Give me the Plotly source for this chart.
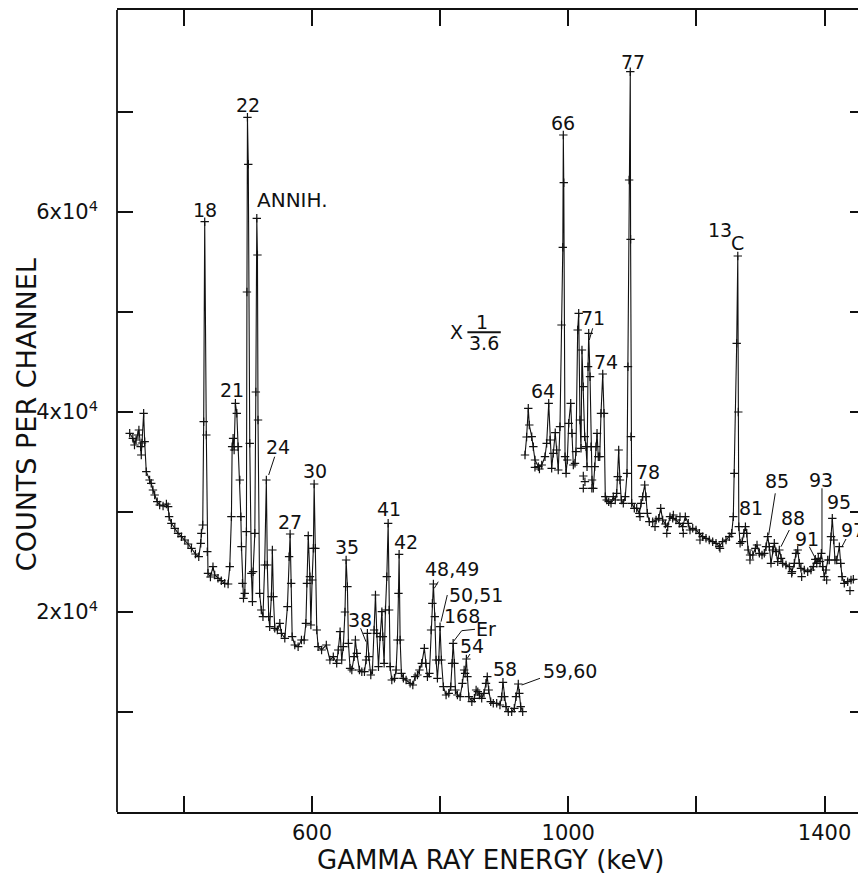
import plotly.graph_objects as go

# ---- Data ----
# Lower-energy part (true scale): energy (keV), counts per channel
low_E = [315.5, 320.4, 323.0, 325.5, 328.4, 329.9, 332.6, 333.6, 334.7, 337.3, 338.9, 341.4, 346.6, 349.1,
         351.8, 354.5, 358.5, 362.3, 367.6, 372.8, 375.5, 377.0, 380.6, 385.9, 391.0, 396.3, 401.5, 406.6,
         411.9, 418.1, 423.3, 426.4, 427.4, 429.5, 431.0, 432.6, 435.1, 436.6, 437.7, 441.5, 445.5, 448.2,
         453.3, 458.5, 463.8, 469.1, 471.7, 474.3, 475.4, 476.9, 478.5, 480.5, 482.7, 484.7, 487.4, 489.0,
         490.0, 491.5, 493.1, 495.1, 497.7, 498.5, 499.3, 500.6, 502.9, 505.5, 507.1, 508.1, 510.8, 512.4,
         513.9, 514.9, 515.8, 518.3, 520.9, 523.5, 526.2, 528.8, 530.3, 532.5, 534.0, 536.6, 538.2, 539.8,
         541.9, 546.0, 549.8, 552.3, 557.6, 561.7, 564.3, 565.9, 567.5, 569.1, 573.2, 578.4, 583.6, 587.8,
         590.5, 592.1, 594.2, 596.8, 598.3, 600.2, 602.2, 603.4, 605.3, 607.5, 609.6, 615.0, 622.4, 628.0,
         633.3, 638.6, 641.0, 643.9, 646.4, 648.9, 651.5, 653.3, 655.3, 656.9, 659.5, 662.2, 665.8, 667.8,
         670.0, 674.1, 677.8, 681.9, 684.5, 686.5, 688.7, 691.8, 694.4, 697.0, 699.1, 701.2, 703.8, 706.4,
         709.1, 710.6, 712.6, 714.7, 716.8, 718.9, 720.4, 722.0, 724.6, 728.7, 731.3, 733.4, 735.0, 736.0,
         737.6, 739.6, 742.7, 746.9, 753.2, 757.4, 761.0, 764.6, 767.7, 771.4, 775.4, 777.6, 780.2, 783.3,
         785.9, 787.9, 789.5, 791.7, 793.7, 795.8, 797.9, 799.9, 802.0, 805.1, 809.3, 813.5, 816.6, 818.7,
         820.3, 822.3, 823.9, 827.0, 831.2, 834.8, 837.5, 839.0, 841.0, 842.6, 844.8, 849.5, 853.5, 856.2,
         858.8, 861.3, 864.9, 868.5, 871.6, 873.6, 875.8, 879.0, 883.0, 888.3, 893.4, 896.1, 898.1, 900.2,
         902.8, 906.4, 911.7, 915.8, 918.4, 922.0, 923.6, 925.8, 928.9]
low_C = [37870, 37370, 36700, 37200, 37700, 38200, 36530, 35700, 36900, 39870, 37030, 34030, 33200, 32870,
         32200, 31700, 31030, 30700, 30600, 30800, 30530, 29530, 28870, 28370, 27870, 27530, 27200, 26800,
         26370, 25800, 25530, 26870, 27870, 28700, 39030, 59030, 37700, 26030, 23870, 23500, 24530, 23700,
         23370, 23130, 22870, 22800, 24530, 29530, 36530, 37370, 36200, 40870, 39870, 36530, 33200, 29530,
         26530, 22870, 21370, 21870, 28030, 52000, 69470, 64770, 36870, 23870, 21030, 24030, 27870, 42000,
         59370, 55700, 39200, 21870, 20200, 19530, 24700, 33200, 24700, 19530, 18530, 21530, 26200, 21530,
         18370, 18200, 18870, 17870, 17370, 20530, 25530, 27800, 22870, 17530, 16700, 16530, 17200, 17200,
         18870, 22870, 27630, 23530, 18700, 23200, 26370, 32800, 26370, 18200, 16530, 16200, 16700, 15200,
         15530, 14870, 16200, 18030, 15200, 16530, 20000, 25200, 22530, 16870, 14370, 14200, 15530, 17200,
         15870, 14200, 14030, 14030, 15200, 17870, 15530, 13700, 14200, 18200, 21700, 17870, 14530, 17530,
         20030, 17530, 14870, 20200, 23530, 28870, 20200, 14530, 13200, 13370, 14200, 17200, 21870, 25770,
         17200, 13870, 13370, 13200, 12870, 12700, 13530, 13700, 14200, 14870, 16370, 14870, 13530, 13870,
         18200, 20870, 22800, 19530, 15200, 13370, 15200, 18530, 15200, 12530, 11700, 11870, 12530, 14870,
         16870, 14870, 12200, 11700, 11530, 12870, 14200, 13870, 15300, 13530, 11530, 11030, 11370, 12200,
         12030, 11700, 11370, 11870, 12870, 13530, 12200, 11030, 10870, 10870, 10700, 11530, 12970, 11530,
         10530, 10030, 10030, 10370, 11530, 12800, 11870, 10530, 10030]

# Higher-energy part, as drawn (counts already multiplied by 1/3.6)
high_E = [932.5, 935.0, 937.6, 939.2, 943.0, 945.5, 948.1, 953.3, 958.6, 963.7, 966.3, 969.5, 971.5, 974.1,
          976.6, 979.7, 981.9, 984.4, 987.1, 989.5, 991.5, 992.3, 993.0, 995.0, 996.6, 998.5, 1000.7, 1003.8,
          1005.8, 1007.9, 1010.5, 1012.0, 1014.7, 1016.3, 1018.3, 1019.9, 1021.4, 1023.5, 1025.7, 1027.7,
          1029.3, 1030.9, 1031.9, 1034.0, 1035.5, 1037.1, 1039.1, 1041.3, 1043.3, 1044.9, 1046.9, 1049.1,
          1051.1, 1053.8, 1055.8, 1057.8, 1060.0, 1063.1, 1066.7, 1070.3, 1073.4, 1075.6, 1077.2, 1078.7,
          1080.7, 1082.8, 1085.9, 1089.0, 1091.7, 1093.2, 1095.0, 1096.8, 1097.3, 1097.9, 1099.0, 1103.1,
          1106.8, 1110.9, 1113.5, 1116.2, 1119.3, 1121.3, 1123.4, 1126.5, 1131.8, 1137.0, 1141.2, 1144.3,
          1147.4, 1151.5, 1155.2, 1158.8, 1163.0, 1168.2, 1173.3, 1178.6, 1182.7, 1187.3, 1190.0, 1194.2,
          1199.4, 1204.6, 1209.8, 1215.0, 1220.1, 1225.4, 1230.6, 1235.7, 1241.0, 1246.2, 1251.3, 1255.1,
          1257.6, 1259.2, 1262.9, 1264.6, 1265.4, 1266.2, 1268.2, 1271.4, 1274.0, 1276.5, 1278.6, 1280.7,
          1283.8, 1288.0, 1292.1, 1294.6, 1298.3, 1302.4, 1306.0, 1308.7, 1311.3, 1313.8, 1316.4, 1319.1,
          1321.6, 1324.2, 1326.9, 1329.4, 1332.0, 1334.7, 1339.8, 1345.0, 1349.2, 1352.8, 1355.4, 1358.1,
          1360.6, 1363.2, 1368.4, 1373.7, 1378.8, 1382.5, 1385.6, 1387.8, 1390.2, 1392.9, 1395.0, 1397.1,
          1399.6, 1402.3, 1404.9, 1407.4, 1410.1, 1412.1, 1414.3, 1416.3, 1419.0, 1423.1, 1425.2, 1427.3,
          1430.8, 1436.1, 1441.3, 1444.9]
high_C = [35700, 37500, 40370, 38700, 37530, 36530, 35200, 34530, 34700, 35530, 36870, 40870, 37200, 34370,
          35870, 37930, 36200, 34200, 38530, 48700, 56470, 67700, 62930, 35530, 33870, 35200, 38870, 40870,
          37870, 34700, 34870, 36030, 48200, 49870, 39200, 36370, 46200, 42530, 37530, 36530,
          34530, 44530, 47870, 43530, 36530, 33200, 32370, 34530, 36530, 37870, 35530, 35530,
          39870, 43800, 39870, 31530, 31200, 31030, 30870, 31530, 31200, 31870, 33530, 36200,
          33200, 31200, 30870, 31530, 33870, 44530, 63200, 74030, 57270, 37530, 30870, 30370,
          30370, 29870, 30870, 31530, 32700, 31530, 29870, 29030, 29030, 29200, 29370, 30370,
          29200, 28800, 28530, 29530, 29370, 29200, 28870, 28530, 29530, 28870, 28200, 28370,
          28200, 27870, 27530, 27370, 27200, 27030, 26870, 26530, 27030, 27200, 27530, 27870,
          29530, 33870, 46870, 55600, 40000, 28530, 26870, 27030, 27870, 28530, 27870, 26200,
          25700, 25700, 26370, 26700, 25870, 25700, 25870, 26530, 27530, 26530, 24870, 26200,
          26870, 26030, 25030, 26200, 25370, 24870, 24700, 24530, 24030, 24870, 25870, 26200,
          24870, 24370, 24200, 24030, 24200, 24530, 25270, 24870, 25370, 25030, 25870, 24530,
          23530, 24200, 25200, 25200, 27530, 29370, 27200, 25200, 25200, 26530, 24870, 23530,
          22870, 23030, 23200, 23270]

# Scattered channel points lying off the joined curve
extra_E = [948.0, 955.0, 1023.5, 1026.0, 1023.5, 1036.8, 1112.0, 1135.4, 1153.8, 1164.0, 1174.4, 1179.5,
           1205.6, 1236.8, 1283.6, 1348.7, 1364.3, 1403.3, 1439.7]
extra_C = [34470, 34300, 33600, 33030, 32370, 32370, 29530, 28530, 27870, 29700, 29530, 27870,
           27200, 26370, 25200, 23870, 23530, 23200, 22130]

# Peak labels: text, energy, counts
label_text = ["18", "21", "22", "ANNIH.", "24", "27", "30", "35", "38", "41", "42", "48,49", "50,51",
              "168", "Er", "54", "58", "59,60", "64", "66", "71", "74", "77", "13", "C", "78", "81",
              "85", "88", "91", "93", "95", "97"]
label_E = [433.0, 475.6, 499.6, 569.6, 546.5, 565.7, 605.2, 654.2, 675.0, 720.2, 746.9, 818.0, 856.0,
           834.6, 871.6, 849.2, 901.2, 1002.7, 961.0, 992.2, 1038.1, 1058.9, 1100.5, 1237.3, 1264.4,
           1124.0, 1285.2, 1325.3, 1350.3, 1372.6, 1394.5, 1422.1, 1443.9]
label_C = [60200, 42200, 70700, 61200, 36530, 29030, 34130, 26470, 19200, 30300, 27030, 24270, 21700,
           19630, 18270, 16600, 14270, 14130, 42130, 68870, 49370, 45030, 75030, 58200, 56870,
           34030, 30370, 33130, 29370, 27270, 33200, 31030, 28200]

# Leader lines from labels to peaks: (E0, C0, E1, C1)
leaders = [(541.8, 35530, 532.4, 33700), (676.0, 18370, 684.3, 17030), (797.1, 23030, 790.9, 22370),
           (811.2, 21700, 801.4, 19030), (854.4, 18270, 833.7, 18130), (833.7, 18130, 820.6, 17030),
           (846.6, 15800, 842.4, 15370), (955.9, 13370, 927.3, 12700), (1038.1, 48370, 1032.8, 47200),
           (1323.1, 31870, 1312.8, 27700), (1345.0, 28200, 1332.0, 26530), (1376.2, 26530, 1385.6, 25370),
           (1396.0, 32370, 1396.0, 25870), (1433.5, 27300, 1427.2, 26530)]

x_ticks = [400, 600, 800, 1000, 1200, 1400]
x_ticktext = ["", "600", "", "1000", "", "1400"]
y_ticks = [10000, 20000, 30000, 40000, 50000, 60000, 70000]
y_ticktext = ["", "2x10<sup>4</sup>", "", "4x10<sup>4</sup>", "", "6x10<sup>4</sup>", ""]

FONT = "DejaVu Sans"
INK = "#111111"

fig = go.Figure()
mk = dict(symbol="cross-thin", size=6, line=dict(width=1.2, color=INK), color=INK)
fig.add_trace(go.Scatter(x=low_E, y=low_C, mode="lines+markers", line=dict(color=INK, width=1.1), marker=mk,
                         hoverinfo="skip"))
fig.add_trace(go.Scatter(x=high_E, y=high_C, mode="lines+markers", line=dict(color=INK, width=1.1), marker=mk,
                         hoverinfo="skip"))
fig.add_trace(go.Scatter(x=extra_E, y=extra_C, mode="markers", marker=mk, hoverinfo="skip"))

for t, e, c in zip(label_text, label_E, label_C):
    size = 19
    if t == "ANNIH.":
        size = 20
    fig.add_annotation(x=e, y=c, text=t, showarrow=False, xanchor="center", yanchor="middle",
                       font=dict(family=FONT, size=size, color=INK))

for e0, c0, e1, c1 in leaders:
    fig.add_shape(type="line", x0=e0, y0=c0, x1=e1, y1=c1, line=dict(color=INK, width=1))

# "X 1/3.6" scale note
fig.add_annotation(x=825.9, y=47970, text="X", showarrow=False, font=dict(family=FONT, size=19, color=INK))
fig.add_annotation(x=864.9, y=48870, text="1", showarrow=False, yanchor="bottom", yshift=-12,
                   font=dict(family=FONT, size=19, color=INK))
fig.add_annotation(x=868.5, y=46870, text="3.6", showarrow=False, font=dict(family=FONT, size=19, color=INK))
fig.add_shape(type="line", x0=842.6, x1=894.7, y0=47970, y1=47970, line=dict(color=INK, width=2))

# left frame line
fig.add_shape(type="line", xref="paper", yref="paper", x0=0, x1=0, y0=0, y1=1,
              line=dict(color=INK, width=1.8))

# axis titles
fig.add_annotation(xref="paper", yref="paper", x=0.4993, y=-0.0599, text="GAMMA RAY ENERGY (keV)",
                   showarrow=False, xanchor="center", yanchor="middle",
                   font=dict(family=FONT, size=26, color=INK))
fig.add_annotation(xref="paper", yref="paper", x=-0.1215, y=0.496, text="COUNTS PER CHANNEL",
                   showarrow=False, textangle=-90, xanchor="center", yanchor="middle",
                   font=dict(family=FONT, size=27, color=INK))

# The page body adds an 8 px offset, so the figure is 8 px smaller than the window
fig.update_layout(
    width=858, height=866,
    margin=dict(l=109, r=0, t=2, b=62),
    plot_bgcolor="white", paper_bgcolor="white",
    showlegend=False,
    font=dict(family=FONT, color=INK),
    xaxis=dict(range=[295.7, 1464.7], tickvals=x_ticks, ticktext=x_ticktext, ticks="inside", ticklen=16,
               tickwidth=1.5, tickcolor=INK, showline=True, linewidth=1.8, linecolor=INK, mirror="ticks",
               showgrid=False, zeroline=False, tickfont=dict(family=FONT, size=21, color=INK),
               ticklabelstandoff=1),
    yaxis=dict(range=[0, 80200], tickvals=y_ticks, ticktext=y_ticktext, ticks="inside", ticklen=16,
               tickwidth=1.5, tickcolor=INK, showline=False, mirror="ticks",
               showgrid=False, zeroline=False, tickfont=dict(family=FONT, size=21, color=INK),
               ticklabelstandoff=18),
)

fig.write_html("out.html")
